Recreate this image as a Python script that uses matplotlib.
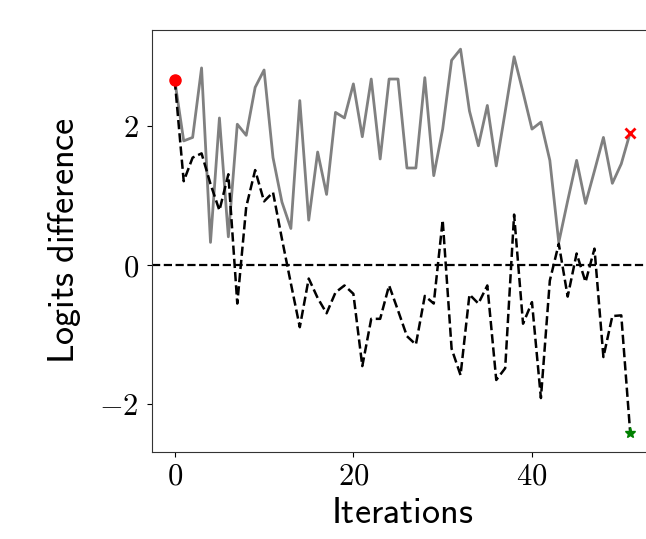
import numpy as np
import matplotlib
matplotlib.use("Agg")
import matplotlib.pyplot as plt

plt.rcParams['mathtext.fontset'] = 'cm'

# logits difference per iteration
target_logits = [2.65, 1.78, 1.83, 2.83, 0.32, 2.11, 0.40, 2.02, 1.86, 2.55,
                 2.80, 1.54, 0.90, 0.52, 2.36, 0.64, 1.62, 1.01, 2.19, 2.11,
                 2.60, 1.84, 2.67, 1.52, 2.67, 2.67, 1.39, 1.39, 2.69, 1.28,
                 1.95, 2.94, 3.10, 2.21, 1.71, 2.29, 1.42, 2.20, 2.99, 2.48,
                 1.95, 2.05, 1.50, 0.32, 0.92, 1.50, 0.88, 1.35, 1.83, 1.17,
                 1.45, 1.90]
adv_logits = [2.65, 1.20, 1.54, 1.60, 1.16, 0.78, 1.30, -0.56, 0.83, 1.36,
              0.91, 1.04, 0.37, -0.27, -0.90, -0.20, -0.48, -0.70, -0.40, -0.30,
              -0.42, -1.46, -0.78, -0.78, -0.30, -0.66, -1.03, -1.15, -0.45, -0.56,
              0.64, -1.21, -1.59, -0.43, -0.56, -0.30, -1.66, -1.49, 0.72, -0.85,
              -0.54, -1.92, -0.23, 0.30, -0.46, 0.16, -0.25, 0.23, -1.33, -0.74,
              -0.73, -2.42]
iters = np.arange(len(target_logits))

fig = plt.figure(figsize=(6.46, 5.39), dpi=100)
ax = fig.add_axes([0.2353, 0.1614, 0.7755, 0.783])

ax.plot(iters, target_logits, color='gray', lw=2)
ax.plot(iters, adv_logits, color='black', ls='--', lw=1.8)
ax.axhline(0, color='black', ls='--', lw=1.6)
ax.plot(iters[0], target_logits[0], 'o', color='red', ms=8)
ax.plot(iters[-1], target_logits[-1], 'x', color='red', ms=7, mew=2)
ax.plot(iters[-1], adv_logits[-1], '*', color='green', ms=8)

ax.set_xticks([0, 20, 40])
ax.set_xticklabels([r'$0$', r'$20$', r'$40$'], fontsize=22)
ax.set_yticks([-2, 0, 2])
ax.set_yticklabels([r'$-2$', r'$0$', r'$2$'], fontsize=22)
ax.tick_params(axis='y', pad=6)
ax.set_xlabel(r'$\mathsf{Iterations}$', fontsize=26)
ax.set_ylabel(r'$\mathsf{Logits\ difference}$', fontsize=26, labelpad=12)
for s in ax.spines.values():
    s.set_color('#333333')
ax.spines['right'].set_visible(False)

fig.savefig('out.png', dpi=100)
